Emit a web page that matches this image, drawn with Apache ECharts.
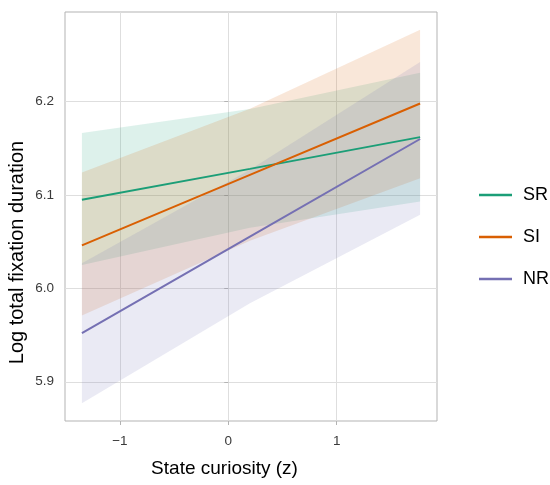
<!DOCTYPE html>
<html>
<head>
<meta charset="utf-8">
<script src="https://cdn.jsdelivr.net/npm/echarts@6/dist/echarts.min.js"></script>
<style>
  html, body { margin: 0; padding: 0; background: #fff; }
  #chart { width: 550px; height: 485px; }
</style>
</head>
<body>
<div id="chart"></div>
<script>
// Predicted log total fixation duration by state curiosity, per condition
const groups = ['SR', 'SI', 'NR'];
const curiosity = [-1.35, 0.2, 1.77];

const fitSR = [6.095, 6.128, 6.162];
const lowSR = [6.025, 6.065, 6.093];
const highSR = [6.1665, 6.192, 6.231];

const fitSI = [6.046, 6.1215, 6.198];
const lowSI = [5.971, 6.051, 6.118];
const highSI = [6.124, 6.1925, 6.277];

const fitNR = [5.952, 6.0555, 6.160];
const lowNR = [5.877, 5.984, 6.079];
const highNR = [6.027, 6.127, 6.2425];

const xTicks = [-1, 0, 1];
const yTicks = [5.9, 6.0, 6.1, 6.2];

const colors = { SR: '#1b9e77', SI: '#d95f02', NR: '#7570b3' };
const fits = { SR: fitSR, SI: fitSI, NR: fitNR };
const lows = { SR: lowSR, SI: lowSI, NR: lowNR };
const highs = { SR: highSR, SI: highSI, NR: highNR };

const FONT = '"Liberation Sans", Arial, Helvetica, sans-serif';

function pairs(xs, ys) { return xs.map((x, i) => [x, ys[i]]); }

// Confidence ribbon as one polygon: upper edge left->right, lower edge back
function ribbonSeries(g) {
  const up = pairs(curiosity, highs[g]);
  const lo = pairs(curiosity, lows[g]).reverse();
  const pts = up.concat(lo);
  return {
    type: 'custom',
    name: g + ' band',
    silent: true,
    z: 1,
    data: [0],
    renderItem: function (params, api) {
      const poly = pts.map(p => api.coord(p));
      return {
        type: 'polygon',
        shape: { points: poly },
        style: { fill: colors[g], opacity: 0.15 }
      };
    }
  };
}

function lineSeries(g) {
  return {
    type: 'line',
    name: g,
    data: pairs(curiosity, fits[g]),
    showSymbol: false,
    symbol: 'none',
    z: 5,
    lineStyle: { color: colors[g], width: 2 },
    itemStyle: { color: colors[g] }
  };
}

const chart = echarts.init(document.getElementById('chart'), null, { renderer: 'canvas' });

chart.setOption({
  animation: false,
  backgroundColor: '#ffffff',
  grid: {
    left: 65, top: 12, right: 113, bottom: 64,
    containLabel: false, outerBoundsMode: 'none',
    show: true, borderColor: '#b3b3b3', borderWidth: 1, backgroundColor: 'transparent'
  },
  xAxis: {
    type: 'value',
    min: -1.506, max: 1.926,
    axisLine: { show: false },
    axisTick: { show: true, customValues: xTicks, length: 4, lineStyle: { color: '#b3b3b3' } },
    axisLabel: {
      customValues: xTicks, margin: 13,
      color: '#3a3a3a', fontSize: 13.5, fontFamily: FONT,
      formatter: v => (v < 0 ? '\u2212' + Math.abs(v) : String(v))
    },
    splitLine: { show: true, lineStyle: { color: '#dedede', width: 1 } },
    name: 'State curiosity (z)',
    nameLocation: 'middle', nameGap: 38, nameMoveOverlap: false,
    nameTextStyle: { color: '#000', fontSize: 19, fontFamily: FONT, padding: [0, 53, 0, 0] }
  },
  yAxis: {
    type: 'value',
    min: 5.858, max: 6.296,
    axisLine: { show: false },
    axisTick: { show: true, customValues: yTicks, length: 4, lineStyle: { color: '#b3b3b3' } },
    axisLabel: {
      customValues: yTicks, margin: 11,
      color: '#3a3a3a', fontSize: 13.5, fontFamily: FONT,
      formatter: v => v.toFixed(1)
    },
    splitLine: { show: true, lineStyle: { color: '#dedede', width: 1 } },
    name: 'Log total fixation duration',
    nameLocation: 'middle', nameGap: 38, nameMoveOverlap: false,
    nameTextStyle: { color: '#000', fontSize: 20, fontFamily: FONT, padding: [0, 72, 0, 0] }
  },
  legend: {
    data: groups,
    orient: 'vertical',
    left: 479, top: 184,
    padding: 0,
    itemWidth: 33, itemHeight: 2.5,
    itemGap: 20,
    icon: 'rect',
    textStyle: { color: '#000', fontSize: 18, fontFamily: FONT, lineHeight: 22, padding: [0, 0, 0, 6] }
  },
  series: groups.map(ribbonSeries).concat(groups.map(lineSeries))
});
</script>
</body>
</html>
